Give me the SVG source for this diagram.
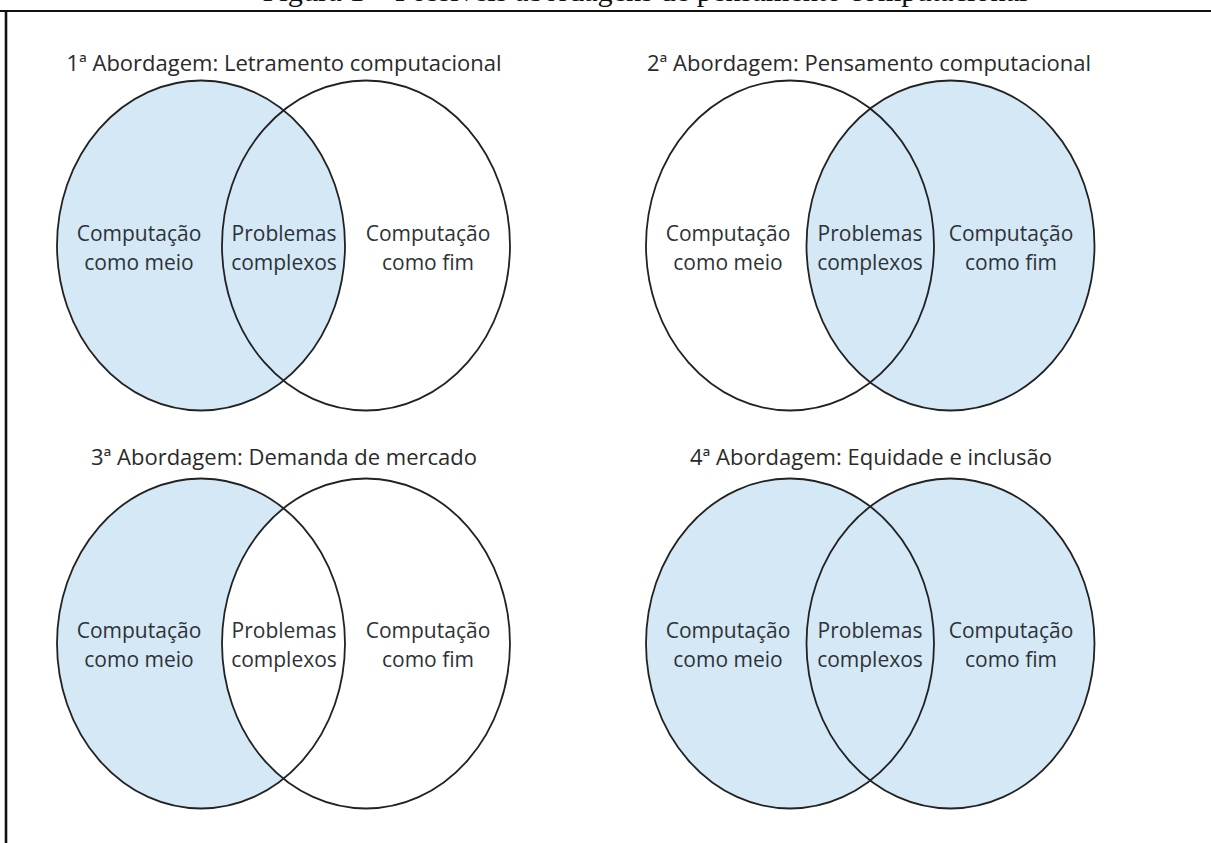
<svg xmlns="http://www.w3.org/2000/svg" width="1211" height="843" viewBox="0 0 1211 843">
  <style>
    .caption { font-family: "Liberation Serif", "Times New Roman", serif; font-size: 30px; fill: #111; }
    .title { font-family: "Open Sans", "Noto Sans", "Liberation Sans", sans-serif; font-size: 22px; fill: #2a2a2a; text-anchor: middle; }
    .label { font-family: "Open Sans", "Noto Sans", "Liberation Sans", sans-serif; font-size: 21px; fill: #2e3236; text-anchor: middle; }
    .ring { fill: none; stroke: #222; stroke-width: 1.8; }
    .on { fill: #d4e8f6; stroke: none; }
    .off { fill: #ffffff; stroke: none; }
    .frame { stroke: #111; fill: none; }
  </style>

  <rect width="1211" height="843" fill="#ffffff"/>

  <!-- caption, clipped by the page top -->
  <text class="caption" x="645" y="1" text-anchor="middle" textLength="765" lengthAdjust="spacingAndGlyphs">Figura 1 – Possíveis abordagens de pensamento computacional</text>

  <!-- frame -->
  <g id="frame">
    <line class="frame" x1="0" y1="11" x2="1211" y2="11" stroke-width="2.2"/>
    <line class="frame" x1="6" y1="10" x2="6" y2="843" stroke-width="2.6"/>
  </g>

  <!-- 1: computing as a means (left set shaded) -->
  <g id="abordagem-1">
    <text class="title" x="284" y="71">1ª Abordagem: Letramento computacional</text>
    <ellipse class="on" cx="201" cy="245.5" rx="144" ry="165"/>
    <ellipse class="ring" cx="201" cy="245.5" rx="144" ry="165"/>
    <ellipse class="ring" cx="366" cy="245.5" rx="144" ry="165"/>
    <text class="label" x="139" y="241">Computação</text>
    <text class="label" x="139" y="270">como meio</text>
    <text class="label" x="284" y="241">Problemas</text>
    <text class="label" x="284" y="270">complexos</text>
    <text class="label" x="428" y="241">Computação</text>
    <text class="label" x="428" y="270">como fim</text>
  </g>

  <!-- 2: computing as an end (right set shaded) -->
  <g id="abordagem-2">
    <text class="title" x="869" y="71">2ª Abordagem: Pensamento computacional</text>
    <ellipse class="on" cx="950.5" cy="245.5" rx="144" ry="165"/>
    <ellipse class="ring" cx="790" cy="245.5" rx="144" ry="165"/>
    <ellipse class="ring" cx="950.5" cy="245.5" rx="144" ry="165"/>
    <text class="label" x="728" y="241">Computação</text>
    <text class="label" x="728" y="270">como meio</text>
    <text class="label" x="870" y="241">Problemas</text>
    <text class="label" x="870" y="270">complexos</text>
    <text class="label" x="1011" y="241">Computação</text>
    <text class="label" x="1011" y="270">como fim</text>
  </g>

  <!-- 3: left set only, overlap left blank -->
  <g id="abordagem-3">
    <text class="title" x="284" y="465">3ª Abordagem: Demanda de mercado</text>
    <ellipse class="on" cx="201" cy="643.5" rx="144" ry="165"/>
    <ellipse class="off" cx="366" cy="643.5" rx="144" ry="165"/>
    <ellipse class="ring" cx="201" cy="643.5" rx="144" ry="165"/>
    <ellipse class="ring" cx="366" cy="643.5" rx="144" ry="165"/>
    <text class="label" x="139" y="638">Computação</text>
    <text class="label" x="139" y="667">como meio</text>
    <text class="label" x="284" y="638">Problemas</text>
    <text class="label" x="284" y="667">complexos</text>
    <text class="label" x="428" y="638">Computação</text>
    <text class="label" x="428" y="667">como fim</text>
  </g>

  <!-- 4: both sets shaded -->
  <g id="abordagem-4">
    <text class="title" x="871" y="465">4ª Abordagem: Equidade e inclusão</text>
    <ellipse class="on" cx="790" cy="643.5" rx="144" ry="165"/>
    <ellipse class="on" cx="950.5" cy="643.5" rx="144" ry="165"/>
    <ellipse class="ring" cx="790" cy="643.5" rx="144" ry="165"/>
    <ellipse class="ring" cx="950.5" cy="643.5" rx="144" ry="165"/>
    <text class="label" x="728" y="638">Computação</text>
    <text class="label" x="728" y="667">como meio</text>
    <text class="label" x="870" y="638">Problemas</text>
    <text class="label" x="870" y="667">complexos</text>
    <text class="label" x="1011" y="638">Computação</text>
    <text class="label" x="1011" y="667">como fim</text>
  </g>

  <!-- no connectors in this figure -->
  <g id="connectors"/>
</svg>
